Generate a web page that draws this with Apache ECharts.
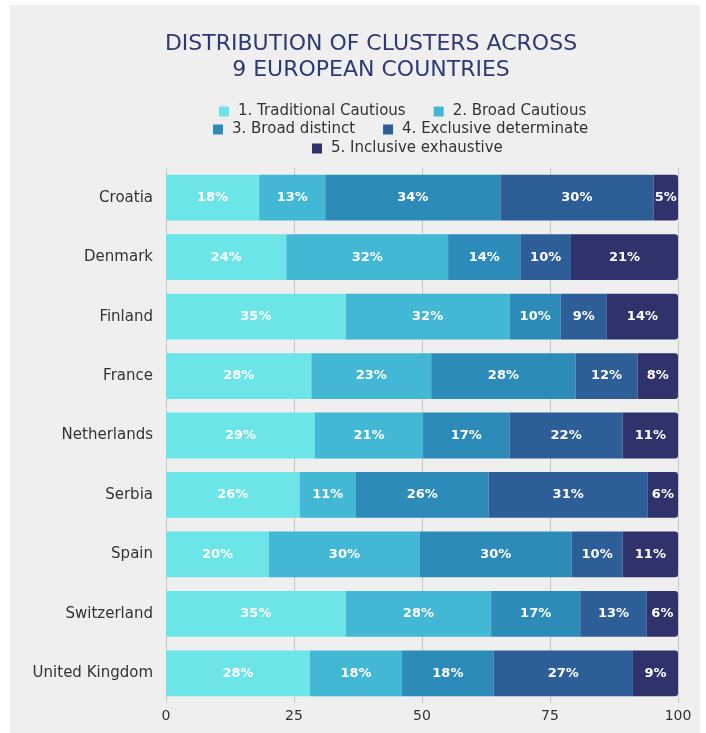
<!DOCTYPE html>
<html>
<head>
<meta charset="utf-8">
<script src="https://cdn.jsdelivr.net/npm/echarts@6/dist/echarts.min.js"></script>
<style>
  body { margin: 0; background: #ffffff; }
  #panel { position: absolute; left: 10px; top: 5px; width: 690px; height: 728px; background: #efefef; }
  #chart { position: absolute; left: 0; top: 0; width: 706px; height: 733px; }
</style>
</head>
<body>
<div id="panel"></div>
<div id="chart"></div>
<script>
var countries = ['Croatia', 'Denmark', 'Finland', 'France', 'Netherlands', 'Serbia', 'Spain', 'Switzerland', 'United Kingdom'];
var clusterNames = ['1. Traditional Cautious', '2. Broad Cautious', '3. Broad distinct', '4. Exclusive determinate', '5. Inclusive exhaustive'];
var clusterColors = ['#6be5e8', '#42b8d5', '#2d8bba', '#2e5e98', '#30336b'];

// share of each cluster per country (%)
var traditionalCautious = [18.2, 23.5, 35.1, 28.4, 29.1, 26.1, 20.1, 35.1, 28.1];
var broadCautious       = [12.9, 31.6, 32.0, 23.4, 21.1, 11.0, 29.5, 28.4, 18.0];
var broadDistinct       = [34.2, 14.1, 10.0, 28.2, 16.9, 25.9, 29.6, 17.4, 17.9];
var exclusiveDet        = [29.9, 9.9, 9.0, 12.1, 22.1, 31.1, 10.0, 13.0, 27.2];
var inclusiveExh        = [4.8, 20.9, 13.9, 7.9, 10.8, 5.9, 10.8, 6.1, 8.8];
var xTicks = [0, 25, 50, 75, 100];

var seriesData = [traditionalCautious, broadCautious, broadDistinct, exclusiveDet, inclusiveExh];

var font = 'DejaVu Sans';
var chart = echarts.init(document.getElementById('chart'));

var legendBase = {
  icon: 'rect',
  itemWidth: 10,
  itemHeight: 10,
  itemGap: 28,
  textStyle: { color: '#333333', fontSize: 15, fontFamily: font, padding: [0, 0, 0, 4] }
};

var series = [];
for (var i = 0; i < seriesData.length; i++) {
  series.push({
    name: clusterNames[i],
    type: 'bar',
    stack: 'total',
    barCategoryGap: '23%',
    itemStyle: {
      color: clusterColors[i],
      borderRadius: i === seriesData.length - 1 ? [0, 3, 3, 0] : 0
    },
    label: {
      show: true,
      position: 'inside',
      color: '#ffffff',
      fontSize: 13,
      fontWeight: 'bold',
      fontFamily: font,
      formatter: function (p) { return Math.round(p.value) + '%'; }
    },
    data: seriesData[i]
  });
}

chart.setOption({
  animation: false,
  title: {
    text: 'DISTRIBUTION OF CLUSTERS ACROSS\n9 EUROPEAN COUNTRIES',
    left: 366,
    top: 26,
    textAlign: 'center',
    textStyle: {
      color: '#2e3a72',
      fontSize: 22,
      fontWeight: 'normal',
      fontFamily: font,
      lineHeight: 26
    }
  },
  legend: [
    Object.assign({ data: clusterNames.slice(0, 2), left: 214, top: 99 }, legendBase),
    Object.assign({ data: clusterNames.slice(2, 4), left: 208, top: 117 }, legendBase),
    Object.assign({ data: clusterNames.slice(4), left: 307, top: 136 }, legendBase)
  ],
  grid: { left: 166, right: 28, top: 168, bottom: 30, containLabel: false },
  xAxis: {
    type: 'value',
    min: xTicks[0],
    max: xTicks[xTicks.length - 1],
    interval: 25,
    axisLine: { show: false },
    axisTick: { show: false },
    axisLabel: { color: '#333333', fontSize: 14, fontFamily: font, margin: 6 },
    splitLine: { show: true, lineStyle: { color: '#c6c6c6', width: 1 } }
  },
  yAxis: {
    type: 'category',
    inverse: true,
    data: countries,
    axisLine: { show: false },
    axisTick: { show: false },
    axisLabel: { color: '#333333', fontSize: 15, fontFamily: font, margin: 13 }
  },
  series: series
});
</script>
</body>
</html>
